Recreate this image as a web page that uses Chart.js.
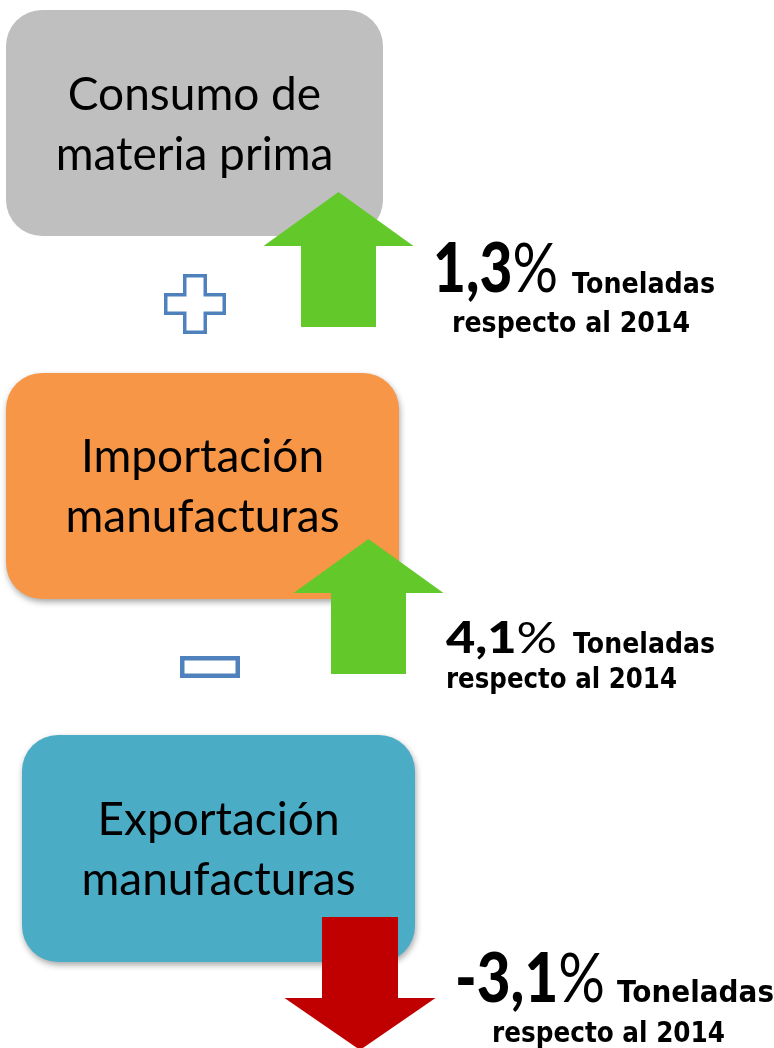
<!DOCTYPE html>
<html lang="es">
<head>
<meta charset="utf-8">
<title>Consumo de materia prima, importación y exportación de manufacturas</title>
<script src="https://cdn.jsdelivr.net/npm/chart.js@4"></script>
<style>
  html, body { margin: 0; padding: 0; background: #fff; }
  #lienzo { display: block; }
</style>
</head>
<body>
<canvas id="lienzo" width="774" height="1048"></canvas>
<script>
// datos
const categorias = [["Consumo de", "materia prima"], ["Importación", "manufacturas"], ["Exportación", "manufacturas"]];
const variaciones = [1.3, 4.1, -3.1];
const operadores = ["+", "-"];
const unidad = "Toneladas";
const referencia = "respecto al 2014";

// estilos
const coloresCaja = ["#bfbfbf", "#f79646", "#4bacc6"];
const colorSube = "#63c92a";
const colorBaja = "#c00000";
const colorSigno = "#4f81bd";

// posiciones en coordenadas de la lámina (x 0..774, y 0..1048)
const cajas = [
  { x0: 6, x1: 383, y0: 10, y1: 236, lineas: [110, 170], sombra: false },
  { x0: 6, x1: 399, y0: 373, y1: 599, lineas: [472, 532], sombra: true },
  { x0: 22, x1: 415, y0: 735, y1: 962, lineas: [835, 895], sombra: true }
];
const flechas = [
  { cx: 338.5, arriba: 192, abajo: 327, punta: 54, cuerpo: 37.5, cabeza: 75 },
  { cx: 368.5, arriba: 539, abajo: 674, punta: 54, cuerpo: 37.5, cabeza: 75 },
  { cx: 360, arriba: 917, abajo: 1050, punta: 52, cuerpo: 38, cabeza: 75.5 }
];
const rotulos = [
  { num: [433, 292, 125, 68], ton: [572, 293, 143, 29], ref: [452, 332, 238, 29] },
  { num: [446, 653, 111, 43], ton: [573, 653, 142, 29], ref: [446, 688, 231, 28] },
  { num: [455, 1002, 150, 68], ton: [617, 1002, 157, 30], ref: [492, 1042, 233, 29] }
];
const signos = [
  { cx: 195, cy: 304, ancho: 31, alto: 30, brazoX: 12, brazoY: 11 },
  { cx: 210, cy: 667, ancho: 30, alto: 11 }
];

const fuenteCaja = "Lato, 'Open Sans', sans-serif";
const fuenteCifra = "Lato, 'DejaVu Sans', sans-serif";
const fuenteRotulo = "'DejaVu Sans', sans-serif";

function textoAjustado(ctx, str, x, base, ancho, font) {
  ctx.font = font;
  const w = ctx.measureText(str).width;
  ctx.save();
  ctx.translate(x, base);
  ctx.scale(ancho / w, 1);
  ctx.fillText(str, 0, 0);
  ctx.restore();
}

const infografia = {
  id: "infografia",
  afterDatasetsDraw(chart) {
    const ctx = chart.ctx;
    const sx = v => chart.scales.x.getPixelForValue(v);
    const sy = v => chart.scales.y.getPixelForValue(v);
    ctx.save();
    ctx.textAlign = "left";
    ctx.textBaseline = "alphabetic";

    categorias.forEach((lineas, i) => {
      const c = cajas[i];
      const x0 = sx(c.x0), x1 = sx(c.x1), y0 = sy(c.y0), y1 = sy(c.y1);

      // caja redondeada
      ctx.save();
      if (c.sombra) {
        ctx.shadowColor = "rgba(0,0,0,0.35)";
        ctx.shadowBlur = 6;
        ctx.shadowOffsetX = 1;
        ctx.shadowOffsetY = 3;
      }
      ctx.fillStyle = coloresCaja[i];
      ctx.beginPath();
      ctx.roundRect(x0, y0, x1 - x0, y1 - y0, 36);
      ctx.fill();
      ctx.restore();

      // texto de la caja
      ctx.fillStyle = "#000";
      ctx.font = "46px " + fuenteCaja;
      ctx.textAlign = "center";
      lineas.forEach((t, k) => ctx.fillText(t, (x0 + x1) / 2, sy(c.lineas[k])));
      ctx.textAlign = "left";

      // flecha según el signo de la variación
      const v = variaciones[i];
      const f = flechas[i];
      const sube = v >= 0;
      const tip = sube ? sy(f.arriba) : sy(f.abajo);
      const cola = sube ? sy(f.abajo) : sy(f.arriba);
      const baseCabeza = sube ? sy(f.arriba + f.punta) : sy(f.abajo - f.punta);
      const cx = sx(f.cx);
      ctx.fillStyle = sube ? colorSube : colorBaja;
      ctx.beginPath();
      ctx.moveTo(cx - f.cuerpo, cola);
      ctx.lineTo(cx - f.cuerpo, baseCabeza);
      ctx.lineTo(cx - f.cabeza, baseCabeza);
      ctx.lineTo(cx, tip);
      ctx.lineTo(cx + f.cabeza, baseCabeza);
      ctx.lineTo(cx + f.cuerpo, baseCabeza);
      ctx.lineTo(cx + f.cuerpo, cola);
      ctx.closePath();
      ctx.fill();

      // cifra y rótulos
      const r = rotulos[i];
      const cifra = (v < 0 ? "-" : "") + Math.abs(v).toFixed(1).replace(".", ",");
      const [nx, nb, nw, ns] = r.num;
      ctx.fillStyle = "#000";
      const fNum = "900 " + ns + "px " + fuenteCifra;
      const fPct = "normal " + ns + "px " + fuenteCifra;
      ctx.font = fNum;
      const w1 = ctx.measureText(cifra).width;
      ctx.font = fPct;
      const w2 = ctx.measureText("%").width;
      const k = nw / (w1 + w2);
      ctx.save();
      ctx.translate(sx(nx), sy(nb));
      ctx.scale(k, 1);
      ctx.font = fNum;
      ctx.fillText(cifra, 0, 0);
      ctx.font = fPct;
      ctx.fillText("%", w1, 0);
      ctx.restore();

      textoAjustado(ctx, unidad, sx(r.ton[0]), sy(r.ton[1]), r.ton[2], "bold " + r.ton[3] + "px " + fuenteRotulo);
      textoAjustado(ctx, referencia, sx(r.ref[0]), sy(r.ref[1]), r.ref[2], "bold " + r.ref[3] + "px " + fuenteRotulo);
    });

    // signos entre cajas
    ctx.strokeStyle = colorSigno;
    ctx.fillStyle = "#fff";
    operadores.forEach((op, i) => {
      const s = signos[i];
      ctx.beginPath();
      if (op === "+") {
        ctx.lineWidth = 3.5;
        const a = s.ancho - 1.75, b = s.alto - 1.75, p = s.brazoX - 1.75, q = s.brazoY - 1.75;
        const pts = [[-p, -b], [p, -b], [p, -q], [a, -q], [a, q], [p, q], [p, b], [-p, b], [-p, q], [-a, q], [-a, -q], [-p, -q]];
        pts.forEach(([dx, dy], j) => {
          const px = sx(s.cx + dx), py = sy(s.cy + dy);
          if (j === 0) ctx.moveTo(px, py); else ctx.lineTo(px, py);
        });
        ctx.closePath();
      } else {
        ctx.lineWidth = 4.5;
        const m = 2.25;
        ctx.rect(sx(s.cx - s.ancho + m), sy(s.cy - s.alto + m), sx(s.cx + s.ancho - m) - sx(s.cx - s.ancho + m), sy(s.cy + s.alto - m) - sy(s.cy - s.alto + m));
      }
      ctx.fill();
      ctx.stroke();
    });
    ctx.restore();
  }
};

new Chart(document.getElementById("lienzo"), {
  type: "scatter",
  data: { datasets: [{ data: [] }] },
  options: {
    responsive: false,
    animation: false,
    events: [],
    layout: { padding: 0 },
    plugins: { legend: { display: false }, tooltip: { enabled: false } },
    scales: {
      x: { type: "linear", min: 0, max: 774, display: false },
      y: { type: "linear", min: 0, max: 1048, reverse: true, display: false }
    }
  },
  plugins: [infografia]
});
</script>
</body>
</html>
